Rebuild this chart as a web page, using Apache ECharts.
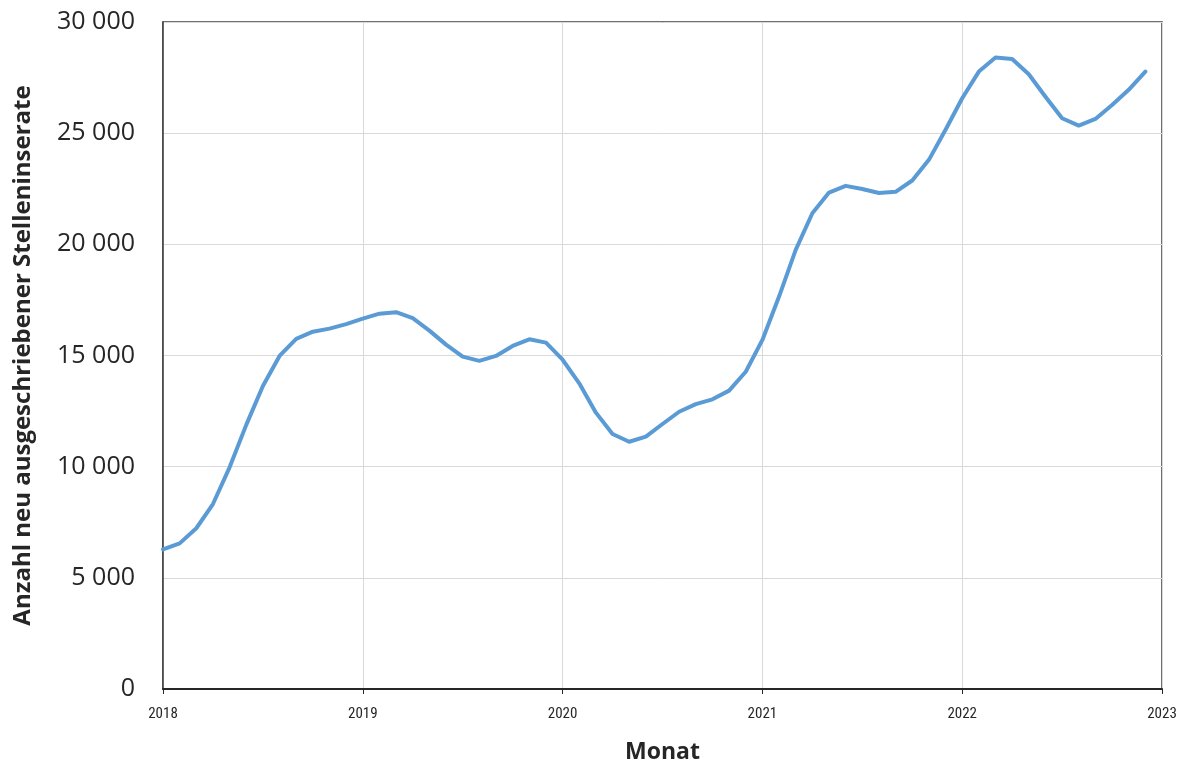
<!DOCTYPE html>
<html>
<head>
<meta charset="utf-8">
<script src="https://cdn.jsdelivr.net/npm/echarts@6/dist/echarts.min.js"></script>
<style>html,body{margin:0;padding:0;background:#fff}#c{width:1190px;height:765px}</style>
</head>
<body>
<div id="c"></div>
<script>
// Monthly values Jan 2018 .. Dec 2022
const startYear = 2018;
const values = [
  6280, 6550, 7230, 8320, 9970, 11880, 13630, 14980, 15750, 16070, 16210, 16410,
  16660, 16880, 16950, 16680, 16120, 15490, 14950, 14760, 14980, 15430, 15730, 15580,
  14810, 13750, 12430, 11470, 11120, 11350, 11920, 12470, 12810, 13030, 13420, 14270,
  15700, 17650, 19750, 21400, 22330, 22630, 22490, 22310, 22360, 22870, 23800, 25150,
  26570, 27770, 28400, 28340, 27650, 26640, 25670, 25340, 25640, 26270, 26950, 27770
];
const yTicks = [0, 5000, 10000, 15000, 20000, 25000, 30000];
const yTitle = 'Anzahl neu ausgeschriebener Stelleninserate';
const xTitle = 'Monat';

const seriesData = values.map((v, i) => [i, v]);
const fmt = v => String(v).replace(/\B(?=(\d{3})+(?!\d))/g, ' ');

const chart = echarts.init(document.getElementById('c'), null, {renderer: 'canvas'});
chart.setOption({
  animation: false,
  backgroundColor: '#ffffff',
  grid: {left: 163, right: 28, top: 22, bottom: 76, outerBoundsMode: 'none', containLabel: false,
         show: true, borderColor: '#404040', borderWidth: 1.5},
  xAxis: {
    type: 'value', min: 0, max: 60, interval: 12,
    axisLine: {show: true, onZero: false, lineStyle: {color: '#262626', width: 2}},
    axisTick: {show: true, length: 5, lineStyle: {color: '#262626', width: 1}},
    splitLine: {show: true, lineStyle: {color: '#d9d9d9', width: 1}},
    axisLabel: {
      formatter: v => String(startYear + v / 12),
      color: '#262626', fontFamily: 'Roboto Condensed, Liberation Sans Narrow, Noto Sans', fontSize: 15, margin: 18
    },
    name: xTitle, nameLocation: 'middle', nameGap: 52,
    nameTextStyle: {color: '#262626', fontFamily: 'Open Sans', fontWeight: 'bold', fontSize: 23}
  },
  yAxis: {
    type: 'value', min: yTicks[0], max: yTicks[yTicks.length - 1], interval: 5000,
    axisLine: {show: true, lineStyle: {color: '#404040', width: 1.5}},
    axisTick: {show: false},
    splitLine: {show: true, lineStyle: {color: '#d9d9d9', width: 1}},
    axisLabel: {formatter: fmt, color: '#262626', fontFamily: 'Open Sans', fontSize: 25, margin: 28},
    name: yTitle, nameLocation: 'middle', nameGap: 128, nameRotate: 90,
    nameTextStyle: {color: '#262626', fontFamily: 'Open Sans', fontWeight: 'bold', fontSize: 24}
  },
  series: [{
    type: 'line', data: seriesData, showSymbol: false, smooth: false,
    lineStyle: {color: '#5b9bd5', width: 4, cap: 'round', join: 'round'},
    itemStyle: {color: '#5b9bd5'}
  }]
});
</script>
</body>
</html>
